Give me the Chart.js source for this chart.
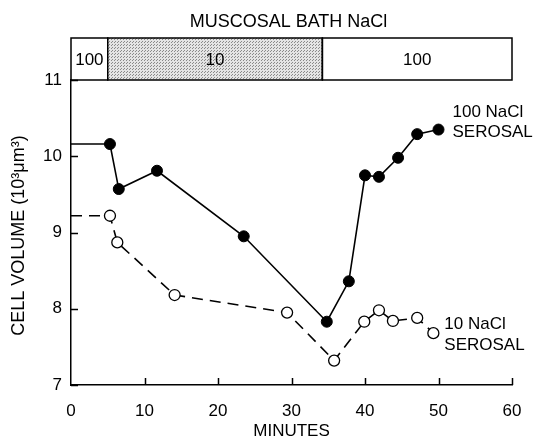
<!DOCTYPE html>
<html>
<head>
<meta charset="utf-8">
<style>
  html, body { margin: 0; padding: 0; background: #fff; }
  #wrap { width: 533px; height: 442px; position: relative; }
</style>
<script src="https://cdn.jsdelivr.net/npm/chart.js@4/dist/chart.umd.min.js"></script>
</head>
<body>
<div id="wrap"><canvas id="c" width="533" height="442"></canvas></div>
<script>
// Cell volume (10^3 µm^3) over time, two serosal bath conditions
const minutes100 = [0, 5.3, 6.5, 11.7, 23.5, 34.8, 37.8, 40.0, 41.9, 44.5, 47.1, 50.0];
const volume100  = [10.16, 10.16, 9.57, 9.81, 8.95, 7.83, 8.36, 9.75, 9.73, 9.98, 10.29, 10.35];

const minutes10 = [0, 5.3, 6.3, 14.1, 29.4, 35.8, 39.9, 41.9, 43.8, 47.1, 49.3];
const volume10  = [9.22, 9.22, 8.87, 8.18, 7.95, 7.32, 7.83, 7.98, 7.84, 7.88, 7.68];

// Mucosal bath NaCl periods (minutes) and concentration labels
const bathStart  = [0, 5, 34.2];
const bathEnd    = [5, 34.2, 60];
const bathLabels = ['100', '10', '100'];

const xTicks = [0, 10, 20, 30, 40, 50, 60];
const yTicks = [7, 8, 9, 10, 11];

const FONT = '"Liberation Sans", Arial, Helvetica, sans-serif';
const FS = 17;

function toPoints(xs, ys) { return xs.map((x, i) => ({ x: x, y: ys[i] })); }

// light stipple for the low-NaCl period
function stipple() {
  const p = document.createElement('canvas');
  p.width = 3; p.height = 3;
  const g = p.getContext('2d');
  g.fillStyle = '#e4e4e4';
  g.fillRect(0, 0, 3, 3);
  g.fillStyle = '#8a8a8a';
  g.fillRect(0, 0, 1, 1);
  g.fillRect(1, 2, 1, 1);
  return g.createPattern(p, 'repeat');
}

const framePlugin = {
  id: 'frame',
  afterDraw(chart) {
    const ctx = chart.ctx;
    const xs = chart.scales.x, ys = chart.scales.y;
    const top = chart.chartArea.top;
    const boxTop = top - 42;
    ctx.save();
    ctx.strokeStyle = '#000';
    ctx.lineWidth = 1.5;

    // inward tick marks
    ctx.beginPath();
    yTicks.forEach(v => {
      const py = Math.round(ys.getPixelForValue(v)) + 0.5;
      ctx.moveTo(xs.left, py); ctx.lineTo(xs.left + 7, py);
    });
    xTicks.forEach(v => {
      if (v === 0) return;
      const px = Math.round(xs.getPixelForValue(v)) + 0.5;
      ctx.moveTo(px, ys.bottom); ctx.lineTo(px, ys.bottom - 7);
    });
    ctx.stroke();

    // bath box
    const pat = stipple();
    ctx.font = FS + 'px ' + FONT;
    ctx.textAlign = 'center';
    ctx.textBaseline = 'middle';
    bathStart.forEach((s, i) => {
      const x0 = xs.getPixelForValue(s), x1 = xs.getPixelForValue(bathEnd[i]);
      if (bathLabels[i] === '10') {
        ctx.fillStyle = pat;
        ctx.fillRect(x0, boxTop, x1 - x0, top - boxTop);
      }
      ctx.strokeRect(x0, boxTop, x1 - x0, top - boxTop);
      ctx.fillStyle = '#000';
      ctx.fillText(bathLabels[i], (x0 + x1) / 2, (boxTop + top) / 2 + 1);
    });

    ctx.font = '18px ' + FONT;
    ctx.fillText('MUSCOSAL BATH NaCl', (xs.left + xs.right) / 2 - 3, 22);

    // vertical axis title
    ctx.save();
    ctx.font = '18px ' + FONT;
    ctx.translate(19, (ys.top + ys.bottom) / 2 + 3);
    ctx.rotate(-Math.PI / 2);
    ctx.fillText('CELL VOLUME (10³μm³)', 0, 0);
    ctx.restore();

    // series labels
    ctx.font = FS + 'px ' + FONT;
    ctx.textAlign = 'left';
    const last100 = minutes100.length - 1;
    const lx1 = xs.getPixelForValue(minutes100[last100]) + 14;
    const ly1 = ys.getPixelForValue(volume100[last100]);
    ctx.fillText('100 NaCl', lx1, ly1 - 17);
    ctx.fillText('SEROSAL', lx1, ly1 + 3);

    const last10 = minutes10.length - 1;
    const lx2 = xs.getPixelForValue(minutes10[last10]) + 11;
    const ly2 = ys.getPixelForValue(volume10[last10]);
    ctx.fillText('10 NaCl', lx2, ly2 - 9);
    ctx.fillText('SEROSAL', lx2, ly2 + 12);
    ctx.restore();
  }
};

new Chart(document.getElementById('c'), {
  type: 'line',
  data: {
    datasets: [
      {
        label: '100 NaCl serosal',
        data: toPoints(minutes100, volume100),
        borderColor: '#000',
        borderWidth: 1.6,
        backgroundColor: '#000',
        pointBackgroundColor: '#000',
        pointBorderColor: '#000',
        pointRadius: minutes100.map((m, i) => i === 0 ? 0 : 5.5),
        pointBorderWidth: 1,
        tension: 0
      },
      {
        label: '10 NaCl serosal',
        data: toPoints(minutes10, volume10),
        borderColor: '#000',
        borderWidth: 1.6,
        borderDash: [11, 7],
        backgroundColor: '#fff',
        pointBackgroundColor: '#fff',
        pointBorderColor: '#000',
        pointRadius: minutes10.map((m, i) => i === 0 ? 0 : 5.5),
        pointBorderWidth: 1.3,
        tension: 0
      }
    ]
  },
  options: {
    responsive: false,
    animation: false,
    layout: { padding: { top: 80, right: 21, left: 0, bottom: 0 } },
    plugins: { legend: { display: false }, tooltip: { enabled: false } },
    scales: {
      x: {
        type: 'linear',
        min: 0, max: 60,
        afterBuildTicks(s) { s.ticks = xTicks.map(v => ({ value: v })); },
        afterFit(s) { s.height = 57; s.paddingLeft = 0; s.paddingRight = 0; },
        grid: { display: false, drawTicks: false, tickLength: 0 },
        border: { display: true, color: '#000', width: 1.5 },
        ticks: { color: '#000', font: { family: FONT, size: FS }, padding: 16, maxRotation: 0 },
        title: { display: true, text: 'MINUTES', color: '#000', font: { family: FONT, size: FS }, padding: { top: 0, bottom: 0 } }
      },
      y: {
        min: 7, max: 11,
        afterBuildTicks(s) { s.ticks = yTicks.map(v => ({ value: v })); },
        afterFit(s) { s.width = 71; s.paddingTop = 0; s.paddingBottom = 0; },
        grid: { display: false, drawTicks: false, tickLength: 0 },
        border: { display: true, color: '#000', width: 1.5 },
        ticks: { color: '#000', font: { family: FONT, size: FS }, padding: 9 }
      }
    }
  },
  plugins: [framePlugin]
});
</script>
</body>
</html>
